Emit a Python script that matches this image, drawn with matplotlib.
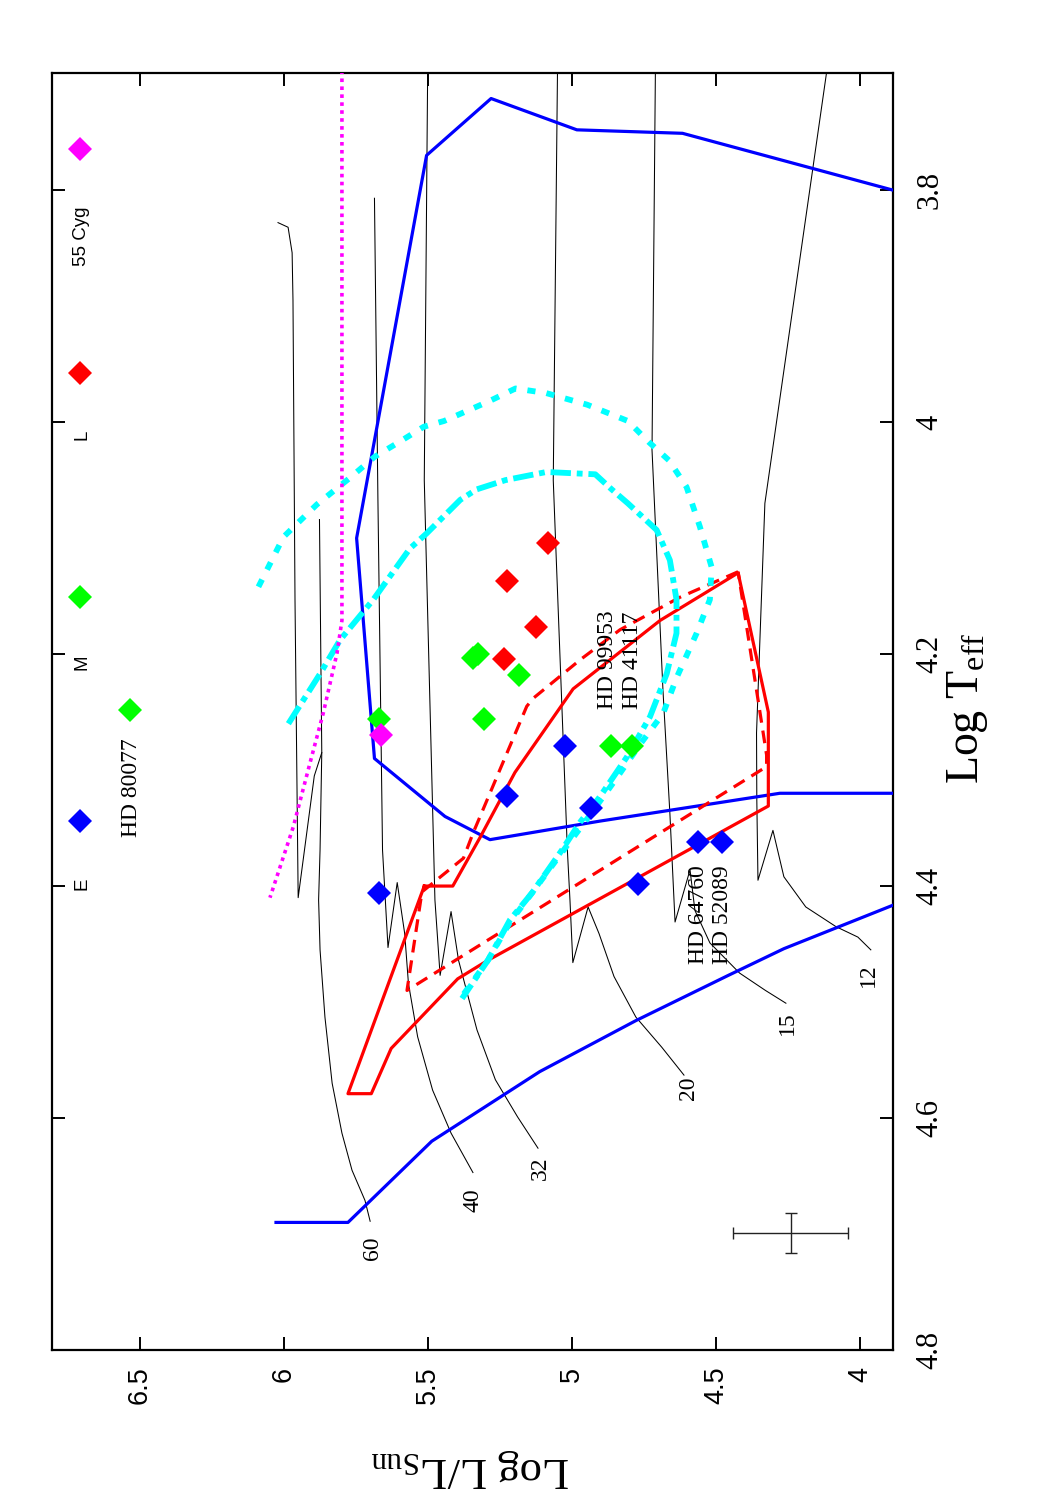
import matplotlib
matplotlib.use("Agg")
import matplotlib.pyplot as plt

plt.rcParams['mathtext.fontset'] = 'custom'
plt.rcParams['mathtext.rm'] = 'Liberation Serif'
plt.rcParams['mathtext.it'] = 'Liberation Serif:italic'
SERIF = 'Liberation Serif'
SANS = 'Liberation Sans'

# ---------------- data (x = log L/Lsun, y = log Teff) ----------------
# observed stars, by group
E_L = [5.669, 5.227, 5.023, 4.933, 4.772, 4.563, 4.479]
E_T = [4.406, 4.322, 4.279, 4.333, 4.398, 4.362, 4.362]
M_L = [6.535, 5.669, 5.344, 5.326, 5.184, 5.306, 4.864, 4.791]
M_T = [4.248, 4.256, 4.203, 4.200, 4.218, 4.256, 4.279, 4.279]
Lg_L = [5.084, 5.226, 5.125, 5.235]
Lg_T = [4.104, 4.137, 4.177, 4.204]
Cyg_L = [5.663]
Cyg_T = [4.270]
key_names = ['E', 'M', 'L', '55 Cyg']

# evolutionary tracks (masses)
track_masses = ['60', '40', '32', '20', '15', '12']
t60a_L = [5.701, 5.719, 5.764, 5.799, 5.833, 5.858, 5.875, 5.880, 5.875, 5.869, 5.877]
t60a_T = [4.689, 4.671, 4.645, 4.613, 4.570, 4.513, 4.455, 4.412, 4.369, 4.285, 4.084]
t60b_L = [5.869, 5.895, 5.951, 5.962, 5.969, 5.972, 5.986, 6.021]
t60b_T = [4.285, 4.305, 4.410, 4.153, 3.895, 3.854, 3.832, 3.828]
t40_L = [5.344, 5.420, 5.484, 5.536, 5.568, 5.581, 5.607, 5.639, 5.658, 5.674, 5.686]
t40_T = [4.647, 4.613, 4.576, 4.530, 4.484, 4.441, 4.397, 4.453, 4.369, 4.067, 3.807]
t32_L = [5.118, 5.189, 5.266, 5.330, 5.394, 5.420, 5.458, 5.476, 5.513, 5.501]
t32_T = [4.626, 4.599, 4.567, 4.524, 4.464, 4.422, 4.477, 4.412, 4.050, 3.690]
t20_L = [4.611, 4.688, 4.778, 4.854, 4.906, 4.944, 4.997, 5.007, 5.016, 5.065, 5.050]
t20_T = [4.563, 4.539, 4.513, 4.478, 4.441, 4.418, 4.466, 4.412, 4.369, 4.050, 3.690]
t15_L = [4.257, 4.328, 4.418, 4.521, 4.573, 4.590, 4.642, 4.660, 4.684, 4.722, 4.710]
t15_T = [4.501, 4.490, 4.475, 4.449, 4.421, 4.386, 4.431, 4.337, 4.231, 4.024, 3.690]
t12_L = [3.962, 4.007, 4.083, 4.188, 4.264, 4.302, 4.354, 4.358, 4.359, 4.330, 4.116]
t12_T = [4.455, 4.444, 4.435, 4.418, 4.392, 4.352, 4.395, 4.326, 4.268, 4.070, 3.699]
mass_lab_L = [5.694, 5.344, 5.111, 4.597, 4.250, 3.969]
mass_lab_T = [4.712, 4.671, 4.643, 4.574, 4.518, 4.477]

# blue boundary lines
blueA_L = [3.885, 4.616, 4.983, 5.281, 5.505, 5.748, 5.686, 5.441, 5.285, 4.903, 4.278, 3.885]
blueA_T = [3.800, 3.751, 3.748, 3.721, 3.770, 4.100, 4.290, 4.340, 4.360, 4.344, 4.320, 4.320]
blueB_L = [6.028, 5.778, 5.487, 5.112, 4.778, 4.457, 4.264, 3.880]
blueB_T = [4.690, 4.690, 4.620, 4.560, 4.516, 4.477, 4.454, 4.416]

# red regions (solid and dashed)
redS_L = [5.513, 5.414, 5.319, 5.198, 4.996, 4.694, 4.423, 4.318, 4.318, 5.292, 5.397,
          5.628, 5.697, 5.778, 5.513]
redS_T = [4.400, 4.400, 4.358, 4.302, 4.230, 4.171, 4.130, 4.250, 4.331, 4.464, 4.480,
          4.540, 4.579, 4.579, 4.400]
redD_L = [4.423, 4.625, 4.833, 4.972, 5.134, 5.157, 5.343, 5.377, 5.521, 5.573, 4.324,
          4.324, 4.423]
redD_T = [4.129, 4.151, 4.179, 4.205, 4.238, 4.245, 4.354, 4.376, 4.405, 4.490, 4.297,
          4.287, 4.129]

# cyan curves
cyanDot_L = [6.089, 6.002, 5.886, 5.771, 5.686, 5.586, 5.515, 5.444, 5.288, 5.196, 5.089,
             4.947, 4.806, 4.734, 4.663, 4.602, 4.556, 4.515, 4.521, 4.567, 4.636, 4.683,
             4.764, 4.851, 4.938, 5.035, 5.139, 5.215, 5.292, 5.396]
cyanDot_T = [4.142, 4.099, 4.071, 4.048, 4.030, 4.015, 4.004, 3.999, 3.982, 3.971, 3.975,
             3.985, 3.999, 4.017, 4.033, 4.056, 4.090, 4.125, 4.153, 4.182, 4.220, 4.251,
             4.278, 4.309, 4.339, 4.371, 4.406, 4.431, 4.464, 4.500]
cyanDD_L = [5.985, 5.875, 5.806, 5.690, 5.563, 5.505, 5.388, 5.331, 5.231, 5.089, 4.919,
            4.862, 4.806, 4.706, 4.660, 4.637, 4.637, 4.671, 4.729, 4.810, 4.903, 4.972,
            5.035, 5.139, 5.215, 5.292, 5.382]
cyanDD_T = [4.260, 4.217, 4.188, 4.153, 4.109, 4.096, 4.067, 4.058, 4.050, 4.043, 4.045,
            4.058, 4.070, 4.093, 4.119, 4.153, 4.182, 4.217, 4.254, 4.289, 4.323, 4.345,
            4.369, 4.406, 4.429, 4.464, 4.497]

# magenta dotted limit
mag_L = [5.799, 5.799, 5.816, 5.864, 5.910, 5.968, 6.049]
mag_T = [3.690, 4.171, 4.199, 4.251, 4.294, 4.349, 4.410]

# star name labels
name_txt = ['HD 80077', 'HD 99953', 'HD 41117', 'HD 64760', 'HD 52089']
name_L = [6.529, 4.875, 4.790, 4.559, 4.476]
name_T = [4.315, 4.205, 4.205, 4.425, 4.425]

# typical error bar
err_L, err_T = 4.240, 4.699
err_dL, err_dT = 0.20, 0.017

# axis ticks
xticks = [6.5, 6, 5.5, 5, 4.5, 4]
xtick_labels = ['6.5', '6', '5.5', '5', '4.5', '4']
yticks = [3.8, 4.0, 4.2, 4.4, 4.6, 4.8]
ytick_labels = ['3.8', '4', '4.2', '4.4', '4.6', '4.8']

# ---------------- figure ----------------
fig = plt.figure(figsize=(10.5, 15), dpi=100)
ax = fig.add_axes([52 / 1050, 150 / 1500, 841 / 1050, 1277 / 1500])
ax.set_xlim(6.806, 3.885)
ax.set_ylim(4.8, 3.699)

trk = dict(color='black', lw=0.75, zorder=2)
for xs, ys in [(t60a_L, t60a_T), (t60b_L, t60b_T), (t40_L, t40_T), (t32_L, t32_T),
               (t20_L, t20_T), (t15_L, t15_T), (t12_L, t12_T)]:
    ax.plot(xs, ys, **trk)
for m, lx, ly in zip(track_masses, mass_lab_L, mass_lab_T):
    ax.text(lx, ly, m, rotation=90, ha='center', va='center', fontsize=17,
            fontfamily=SERIF)

ax.plot(blueA_L, blueA_T, color='#0000ff', lw=2.3, zorder=3)
ax.plot(blueB_L, blueB_T, color='#0000ff', lw=2.3, zorder=3)
ax.plot(redS_L, redS_T, color='#ff0000', lw=2.3, zorder=3)
ax.plot(redD_L, redD_T, color='#ff0000', lw=2.3, ls=(0, (4, 2.5)), zorder=3)
ax.plot(cyanDot_L, cyanDot_T, color='#00ffff', lw=4.2, ls=(0, (1.4, 1.9)), zorder=3)
ax.plot(cyanDD_L, cyanDD_T, color='#00ffff', lw=4.2, ls=(0, (3.5, 1.0, 1.0, 1.0)), zorder=3)
ax.plot(mag_L, mag_T, color='#ff00ff', lw=2.6, ls=(0, (1, 1.2)), zorder=3)

mk = dict(marker='D', ms=12.5, mew=0, ls='none', zorder=5)
groups = [(E_L, E_T, '#0000ff'), (M_L, M_T, '#00ff00'), (Lg_L, Lg_T, '#ff0000'),
          (Cyg_L, Cyg_T, '#ff00ff')]
for xs, ys, c in groups:
    ax.plot(xs, ys, color=c, **mk)

# key (legend) drawn like the original: label then symbol, rotated
key_x = (80 - 52) / 841
key_y0 = (1350 - 821) / 1277
key_dy = 224 / 1277
for i, (name, (_, _, c)) in enumerate(zip(key_names, groups)):
    yk = key_y0 + i * key_dy
    ax.plot([key_x], [yk], transform=ax.transAxes, color=c, clip_on=False, **mk)
    ax.text(key_x + 2 / 841, yk - 57 / 1277, name, transform=ax.transAxes, rotation=90,
            ha='center', va='top', fontsize=13.5, fontfamily=SANS)

for t, lx, ly in zip(name_txt, name_L, name_T):
    ax.text(lx, ly, t, rotation=90, ha='center', va='center', fontsize=17,
            fontfamily=SERIF, zorder=6)

ax.errorbar([err_L], [err_T], xerr=[err_dL], yerr=[err_dT], fmt='none', ecolor='#222222',
            elinewidth=1.0, capsize=4.5, capthick=1.0, zorder=4)

# axes styling
for s in ax.spines.values():
    s.set_linewidth(1.6)
ax.set_xticks(xticks, xtick_labels, fontfamily=SANS, fontsize=19.5)
ax.set_yticks(yticks, ytick_labels, fontfamily=SERIF, fontsize=22)
ax.tick_params(axis='both', direction='in', length=9.5, width=1.4, top=True, right=True)
ax.tick_params(axis='x', labelrotation=90, pad=12)
ax.tick_params(axis='y', left=True, labelleft=False, labelright=True, labelrotation=90, pad=16)
for lab in ax.get_yticklabels():
    lab.set_verticalalignment('center')

ax.text((968 - 52) / 841, (1350 - 708) / 1277, r'Log T$_{\rm eff}$', transform=ax.transAxes,
        rotation=90, ha='center', va='center', fontsize=33, fontfamily=SERIF)
ax.text((470 - 52) / 841, (1350 - 1468) / 1277, r'Log L/L$_{\rm Sun}$', transform=ax.transAxes,
        rotation=180, ha='center', va='center', fontsize=32, fontfamily=SERIF)

fig.savefig('out.png', dpi=100)
